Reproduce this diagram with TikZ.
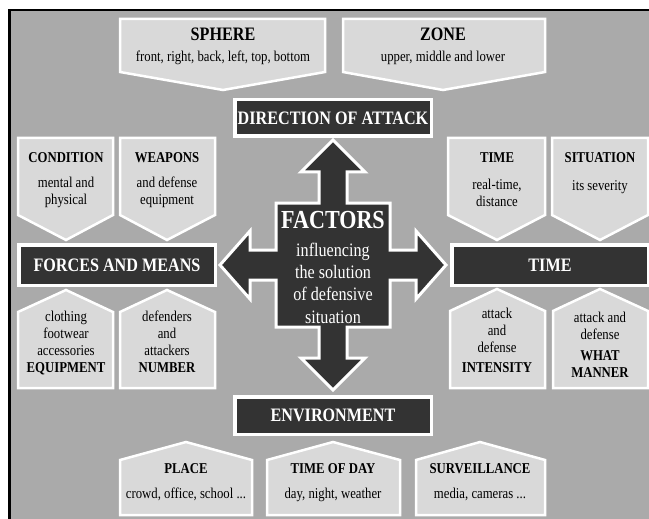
\documentclass[tikz,border=0pt]{standalone}
\usepackage{fontspec}
\setmainfont{Liberation Serif}[FakeStretch=0.85]
\definecolor{bggray}{HTML}{AAAAAA}
\definecolor{lightbox}{HTML}{D9D9D9}
\definecolor{darkbox}{HTML}{333333}

\begin{document}
\begin{tikzpicture}[x=1pt,y=-1pt,
   tagbox/.style={fill=lightbox,draw=white,line width=2.5pt},
   darkbar/.style={fill=darkbox,draw=white,line width=3.5pt,text=white,inner sep=0pt,
                   font=\fontsize{19}{21}\selectfont\bfseries},
   bigttl/.style={anchor=base,font=\fontsize{19}{21}\selectfont\bfseries},
   ttl/.style={anchor=base,font=\fontsize{15}{17}\selectfont\bfseries},
   txt/.style={align=center,inner sep=0pt,font=\fontsize{15}{17}\selectfont}]
   \useasboundingbox (0,0) rectangle (649,519);
   \clip (0,0) rectangle (649,519);
   \fill[bggray] (9,10) rectangle (670,530);
   \draw[line width=2.5pt] (9.3,530) -- (9.3,10) -- (670,10);

   \draw[tagbox] (120,19) -- (325,19) -- (325,72) -- (223,90) -- (120,72) -- cycle;
   \draw[tagbox] (343,19) -- (545,19) -- (545,72) -- (443,90) -- (343,72) -- cycle;
   \node (sphere)    at (223,41) [bigttl] {SPHERE};
   \node (spheretxt) at (223,62) [txt,anchor=base] {front, right, back, left, top, bottom};
   \node (zone)      at (443,41) [bigttl] {ZONE};
   \node (zonetxt)   at (443,62) [txt,anchor=base] {upper, middle and lower};

   \draw[tagbox] (18,138) -- (113,138) -- (113,215) -- (66,240) -- (18,215) -- cycle;
   \draw[tagbox] (120,138) -- (215,138) -- (215,215) -- (167,240) -- (120,215) -- cycle;
   \draw[tagbox] (448,138) -- (545,138) -- (545,215) -- (497,240) -- (448,215) -- cycle;
   \draw[tagbox] (552,138) -- (648,138) -- (648,215) -- (600,240) -- (552,215) -- cycle;
   \node (condition)    at (66,162)  [ttl] {CONDITION};
   \node (conditiontxt) at (66,192)  [txt] {mental and\\physical};
   \node (weapons)      at (167,162) [ttl] {WEAPONS};
   \node (weaponstxt)   at (167,192) [txt] {and defense\\equipment};
   \node (timeup)       at (497,162) [ttl] {TIME};
   \node (timeuptxt)    at (497,193) [txt] {real-time,\\distance};
   \node (situation)    at (600,162) [ttl] {SITUATION};
   \node (situationtxt) at (600,190) [txt,anchor=base] {its severity};

   \draw[tagbox] (18,312) -- (66,290) -- (113,312) -- (113,388) -- (18,388) -- cycle;
   \draw[tagbox] (120,312) -- (167,290) -- (215,312) -- (215,388) -- (120,388) -- cycle;
   \draw[tagbox] (450,311) -- (497,289) -- (545,311) -- (545,388) -- (450,388) -- cycle;
   \draw[tagbox] (553,311) -- (600,289) -- (648,311) -- (648,388) -- (553,388) -- cycle;
   \node (equipment) at (66,343)  [txt] {clothing\\footwear\\accessories\\\textbf{EQUIPMENT}};
   \node (number)    at (167,342) [txt] {defenders\\and\\attackers\\\textbf{NUMBER}};
   \node (intensity) at (497,340) [txt] {attack\\and\\defense\\[3pt]\textbf{INTENSITY}};
   \node (manner)    at (600,345) [txt] {attack and\\defense\\[4pt]\textbf{WHAT}\\\textbf{MANNER}};

   \draw[tagbox] (120,460) -- (186,442) -- (252,460) -- (252,515) -- (120,515) -- cycle;
   \draw[tagbox] (267,460) -- (333,442) -- (400,460) -- (400,515) -- (267,515) -- cycle;
   \draw[tagbox] (416,460) -- (480,442) -- (545,460) -- (545,515) -- (416,515) -- cycle;
   \node (place)           at (186,473) [ttl] {PLACE};
   \node (placetxt)        at (186,498) [txt,anchor=base] {crowd, office, school ...};
   \node (timeofday)       at (333,473) [ttl] {TIME OF DAY};
   \node (timeofdaytxt)    at (333,498) [txt,anchor=base] {day, night, weather};
   \node (surveillance)    at (480,473) [ttl] {SURVEILLANCE};
   \node (surveillancetxt) at (480,498) [txt,anchor=base] {media, cameras ...};

   \draw[fill=darkbox,draw=white,line width=3pt,line join=miter]
      (333,140) -- (365,172) -- (347,172) -- (347,203) -- (390,203) -- (390,250)
      -- (416,250) -- (416,231) -- (446,265) -- (416,299) -- (416,280) -- (390,280)
      -- (390,327) -- (347,327) -- (347,358) -- (365,358) -- (333,390) -- (301,358)
      -- (319,358) -- (319,327) -- (276,327) -- (276,280) -- (250,280) -- (250,299)
      -- (220,265) -- (250,231) -- (250,250) -- (276,250) -- (276,203) -- (319,203)
      -- (319,172) -- (301,172) -- cycle;
   \node (factors)    at (333,228)   [anchor=base,text=white,font=\fontsize{26}{28}\selectfont\bfseries] {FACTORS};
   \node (factorstxt) at (333,283)   [txt,text=white,font=\fontsize{19}{22.3}\selectfont]
      {influencing\\the solution\\of defensive\\situation};

   \node (direction)   at (333,118)   [darkbar,minimum width=196.5pt,minimum height=36.5pt] {DIRECTION OF ATTACK};
   \node (forces)      at (117,265)   [darkbar,minimum width=196.5pt,minimum height=40.5pt] {FORCES AND MEANS};
   \node (time)        at (550,265)   [darkbar,minimum width=196.5pt,minimum height=40.5pt] {TIME};
   \node (environment) at (333,415.5) [darkbar,minimum width=196.5pt,minimum height=37.5pt] {ENVIRONMENT};
\end{tikzpicture}
\end{document}
